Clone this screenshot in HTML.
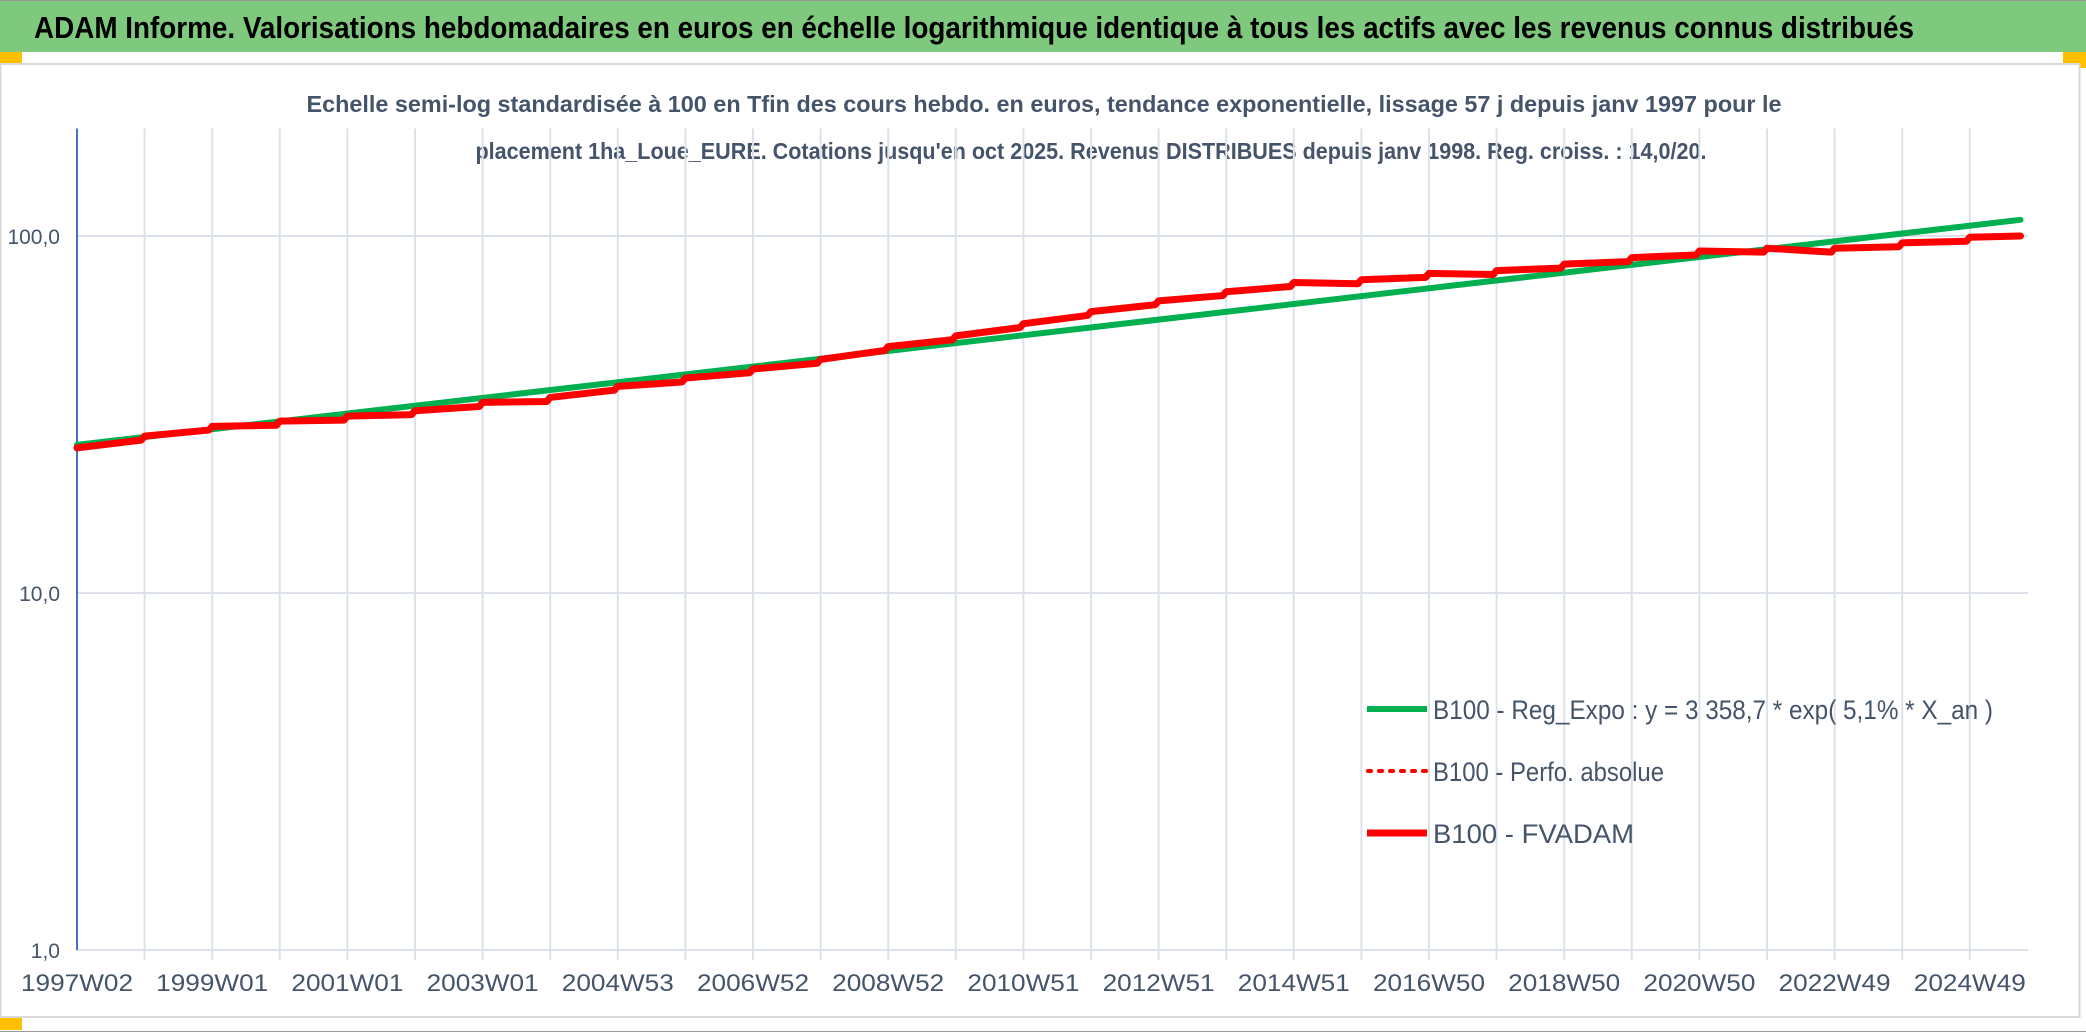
<!DOCTYPE html>
<html><head><meta charset="utf-8"><style>
html,body{margin:0;padding:0;background:#fff;}
svg{display:block;font-family:"Liberation Sans",sans-serif;}
</style></head><body>
<svg id="chart" width="2086" height="1033" viewBox="0 0 2086 1033">
<rect x="0" y="0" width="2086" height="52" fill="#7fc97f"/>
<line x1="0" y1="0.5" x2="2086" y2="0.5" stroke="#999"/>
<text x="34" y="38" font-size="31" font-weight="bold" fill="#000" textLength="1880" lengthAdjust="spacingAndGlyphs">ADAM Informe. Valorisations hebdomadaires en euros en échelle logarithmique identique à tous les actifs avec les revenus connus distribués</text>
<rect x="0" y="52" width="22" height="11" fill="#ffc000"/>
<rect x="2063" y="52" width="23" height="16" fill="#ffc000"/>
<rect x="0" y="1018" width="22" height="12" fill="#ffc000"/>
<rect x="0.5" y="64" width="2079" height="953" fill="#fff" stroke="#d9d9d9" stroke-width="2"/>
<line x1="0" y1="1031.5" x2="2086" y2="1031.5" stroke="#999"/>
<text x="1044" y="112" font-size="23" font-weight="bold" fill="#44546a" text-anchor="middle" textLength="1475" lengthAdjust="spacingAndGlyphs">Echelle semi-log standardisée à 100 en Tfin des cours hebdo. en euros, tendance exponentielle, lissage 57 j depuis janv 1997 pour le</text>
<text x="1091" y="159" font-size="23" font-weight="bold" fill="#44546a" text-anchor="middle" textLength="1231" lengthAdjust="spacingAndGlyphs">placement 1ha_Loue_EURE. Cotations jusqu'en oct 2025. Revenus DISTRIBUES depuis janv 1998. Reg. croiss. : 14,0/20.</text>
<g id="grid"></g>
<g id="axes"></g>
<g id="series"></g>
<g>
<line x1="1367" y1="709" x2="1427" y2="709" stroke="#00b050" stroke-width="6"/>
<text x="1433" y="719" font-size="27" fill="#44546a" textLength="560" lengthAdjust="spacingAndGlyphs">B100 - Reg_Expo : y = 3 358,7 * exp( 5,1% *  X_an )</text>
<line x1="1368" y1="771" x2="1427" y2="771" stroke="#ff0000" stroke-width="4" stroke-dasharray="3 8" stroke-linecap="round"/>
<text x="1433" y="781" font-size="27" fill="#44546a" textLength="231" lengthAdjust="spacingAndGlyphs">B100 - Perfo. absolue</text>
<line x1="1367" y1="833" x2="1427" y2="833" stroke="#ff0000" stroke-width="7"/>
<text x="1433" y="843" font-size="27" fill="#44546a" textLength="201" lengthAdjust="spacingAndGlyphs">B100 - FVADAM</text>
</g>
</svg>
<script>
// data
const xTickLabels = ["1997W02","1999W01","2001W01","2003W01","2004W53","2006W52","2008W52","2010W51","2012W51","2014W51","2016W50","2018W50","2020W50","2022W49","2024W49"];
const yTickValues = [1, 10, 100];
const yTickLabels = ["1,0","10,0","100,0"];
const redYears = [0,1,2,3,4,5,6,7,8,9,10,11,12,13,14,15,16,17,18,19,20,21,22,23,24,25,26,27,28];
const redStartValues = [25.5,27.5,29.3,30.3,31.3,32.4,34.2,35.3,37.9,40.0,42.4,45.1,49.0,52.5,56.8,61.4,65.8,69.8,74.1,75.4,78.6,80.0,83.4,87.0,90.8,92.4,92.4,95.7,99.2];
const redEndValues = [26.8,28.6,29.5,30.5,31.6,33.3,34.4,37.0,39.0,41.4,44.0,47.8,51.2,55.4,59.9,64.2,68.1,72.2,73.5,76.6,78.0,81.3,84.8,88.5,90.1,90.1,93.3,96.7,100];
const redEndYear = 28.75;
const greenYears = [0, 28.75];
const greenValues = [26, 111];

const X0=77, XSTEP=67.6, YB=950, DEC=357, YMAX=200, XR=2028;
const ns="http://www.w3.org/2000/svg";
const xs=t=>X0+t*XSTEP;
const ys=v=>YB-Math.log10(v)*DEC;
function mk(tag,attrs,parent){const e=document.createElementNS(ns,tag);for(const k in attrs)e.setAttribute(k,attrs[k]);parent.appendChild(e);return e;}
const grid=document.getElementById('grid'), axes=document.getElementById('axes'), series=document.getElementById('series');
for(let k=1;k<=28;k++){
  const l=mk('line',{x1:xs(k),x2:xs(k),y1:ys(YMAX),y2:YB+10,stroke:'#dde1ea','stroke-width':2},grid);
  
  
}
yTickValues.forEach((v,i)=>{
  const l=mk('line',{x1:X0,x2:XR,y1:ys(v),y2:ys(v),stroke:'#dde1ea','stroke-width':2},grid);
  
  
  const t=mk('text',{x:60,y:ys(v)+8,'font-size':21,fill:'#44546a','text-anchor':'end'},axes);
  t.textContent=yTickLabels[i];
  
  
});
xTickLabels.forEach((lab,i)=>{
  const t=mk('text',{x:xs(i*2),y:991,'font-size':24,fill:'#44546a','text-anchor':'middle',textLength:112,lengthAdjust:'spacingAndGlyphs'},axes);
  t.textContent=lab;
  
  
});
const ya=mk('line',{x1:X0,x2:X0,y1:ys(YMAX),y2:YB,stroke:'#4472c4','stroke-width':2},axes);


// green trend
let gp=greenYears.map((t,i)=>xs(t)+','+ys(greenValues[i])).join(' ');
const g=mk('polyline',{points:gp,fill:'none',stroke:'#00b050','stroke-width':6,'stroke-linecap':'round'},series);


// red: gradual rise within each year, small jump at year boundary
let pts=[];
for(let i=0;i<redYears.length;i++){
  const tEnd = i+1<redYears.length ? redYears[i+1]-0.05 : redEndYear;
  pts.push(xs(redYears[i])+','+ys(redStartValues[i]));
  pts.push(xs(tEnd)+','+ys(redEndValues[i]));
}
const r=mk('polyline',{points:pts.join(' '),fill:'none',stroke:'#ff0000','stroke-width':7,'stroke-linejoin':'round','stroke-linecap':'round'},series);


</script>
</body></html>
